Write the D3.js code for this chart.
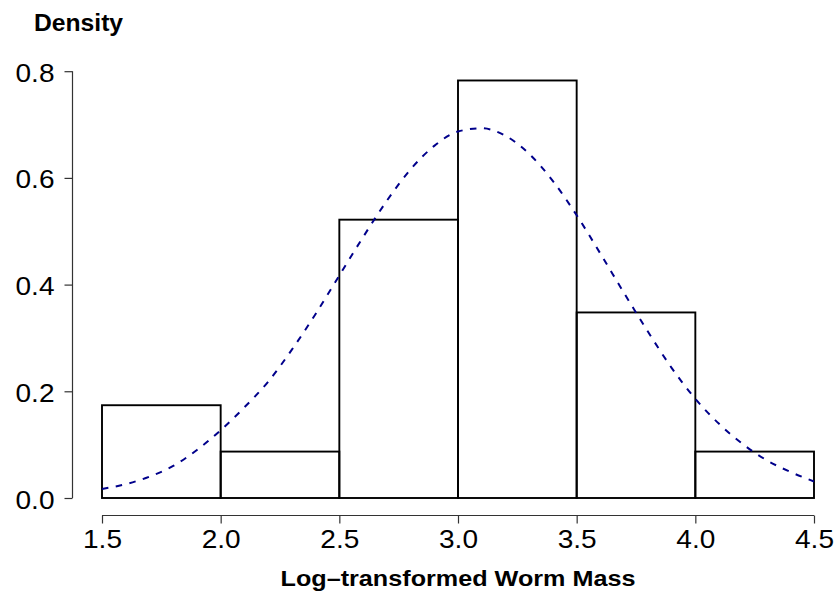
<!DOCTYPE html>
<html>
<head>
<meta charset="utf-8">
<script src="https://cdn.jsdelivr.net/npm/d3@7"></script>
<style>
  html, body { margin: 0; padding: 0; background: #fff; }
  svg { display: block; }
  text { font-family: "Liberation Sans", Arial, Helvetica, sans-serif; fill: #000; }
</style>
</head>
<body>
<script>
// Histogram bins (log-transformed worm mass) and their densities
const binStarts = [1.5, 2.0, 2.5, 3.0, 3.5, 4.0];
const binWidth = 0.5;
const densities = [0.1739, 0.0870, 0.5217, 0.7826, 0.3478, 0.0870];

// Fitted normal density curve, sampled along the x range
const curveX = [1.5, 1.6, 1.7, 1.8, 1.9, 2.0, 2.1, 2.2, 2.3, 2.4, 2.5, 2.6, 2.7, 2.8, 2.9, 3.0,
                3.1, 3.2, 3.3, 3.4, 3.5, 3.6, 3.7, 3.8, 3.9, 4.0, 4.1, 4.2, 4.3, 4.4, 4.5];
const curveY = [0.017, 0.026, 0.040, 0.060, 0.090, 0.127, 0.170, 0.218, 0.278, 0.345, 0.417, 0.489,
                0.557, 0.616, 0.660, 0.687, 0.693, 0.679, 0.645, 0.594, 0.530, 0.458, 0.384, 0.312,
                0.244, 0.186, 0.139, 0.101, 0.071, 0.049, 0.031];

// Axis ticks and labels
const xTicks = [1.5, 2.0, 2.5, 3.0, 3.5, 4.0, 4.5];
const yTicks = [0.0, 0.2, 0.4, 0.6, 0.8];
const xTitle = "Log\u2013transformed Worm Mass";
const yTitle = "Density";

const W = 837, H = 592;
const svg = d3.select("body").append("svg").attr("width", W).attr("height", H);

const x = d3.scaleLinear().domain([1.5, 4.5]).range([102, 814]);
const y = d3.scaleLinear().domain([0, 0.8]).range([498, 71.2]);

// Bars
svg.append("g").selectAll("rect")
  .data(binStarts.map((s, i) => ({ s, d: densities[i] })))
  .join("rect")
  .attr("x", d => x(d.s))
  .attr("y", d => y(d.d))
  .attr("width", d => x(d.s + binWidth) - x(d.s))
  .attr("height", d => y(0) - y(d.d))
  .attr("fill", "none")
  .attr("stroke", "#000")
  .attr("stroke-width", 1.9);

// Density curve
const line = d3.line().x(d => x(d[0])).y(d => y(d[1])).curve(d3.curveMonotoneX);
svg.append("path")
  .datum(curveX.map((v, i) => [v, curveY[i]]))
  .attr("d", line)
  .attr("fill", "none")
  .attr("stroke", "#00008B")
  .attr("stroke-width", 2)
  .attr("stroke-dasharray", "6.5,7.5");

// Axes
const fs = 25.5, sx = 1.1;
const xAxis = svg.append("g").attr("transform", "translate(0,515.5)")
  .call(d3.axisBottom(x).tickValues(xTicks).tickSize(8).tickFormat(d3.format(".1f")));
const yAxis = svg.append("g").attr("transform", "translate(72.5,0)")
  .call(d3.axisLeft(y).tickValues(yTicks).tickSize(8).tickFormat(d3.format(".1f")));

[xAxis, yAxis].forEach(g => {
  g.select(".domain").attr("stroke", "#333").attr("stroke-width", 1.2);
  g.selectAll(".tick line").attr("stroke", "#333").attr("stroke-width", 1.2);
  g.selectAll(".tick text").attr("font-size", fs).attr("fill", "#000")
    .attr("font-family", "'Liberation Sans', Arial, sans-serif");
});
// Strip the outer tick stubs from the domain paths
xAxis.select(".domain").attr("d", `M${x(1.5)},0H${x(4.5)}`);
yAxis.select(".domain").attr("d", `M0,${y(0)}V${y(0.8)}`);

xAxis.selectAll(".tick text")
  .attr("y", 0).attr("dy", 0)
  .attr("transform", `translate(0,32) scale(${sx},1)`);
yAxis.selectAll(".tick text")
  .attr("x", 0).attr("dy", 0)
  .attr("text-anchor", "end")
  .attr("transform", `translate(-18,10) scale(${sx},1)`);

// Titles
svg.append("text")
  .attr("transform", `translate(458,586) scale(1.12,1)`)
  .attr("text-anchor", "middle")
  .attr("font-size", 22.5).attr("font-weight", "bold")
  .text(xTitle);

svg.append("text")
  .attr("transform", `translate(34,31) scale(1.05,1)`)
  .attr("font-size", 23.5).attr("font-weight", "bold")
  .text(yTitle);
</script>
</body>
</html>
